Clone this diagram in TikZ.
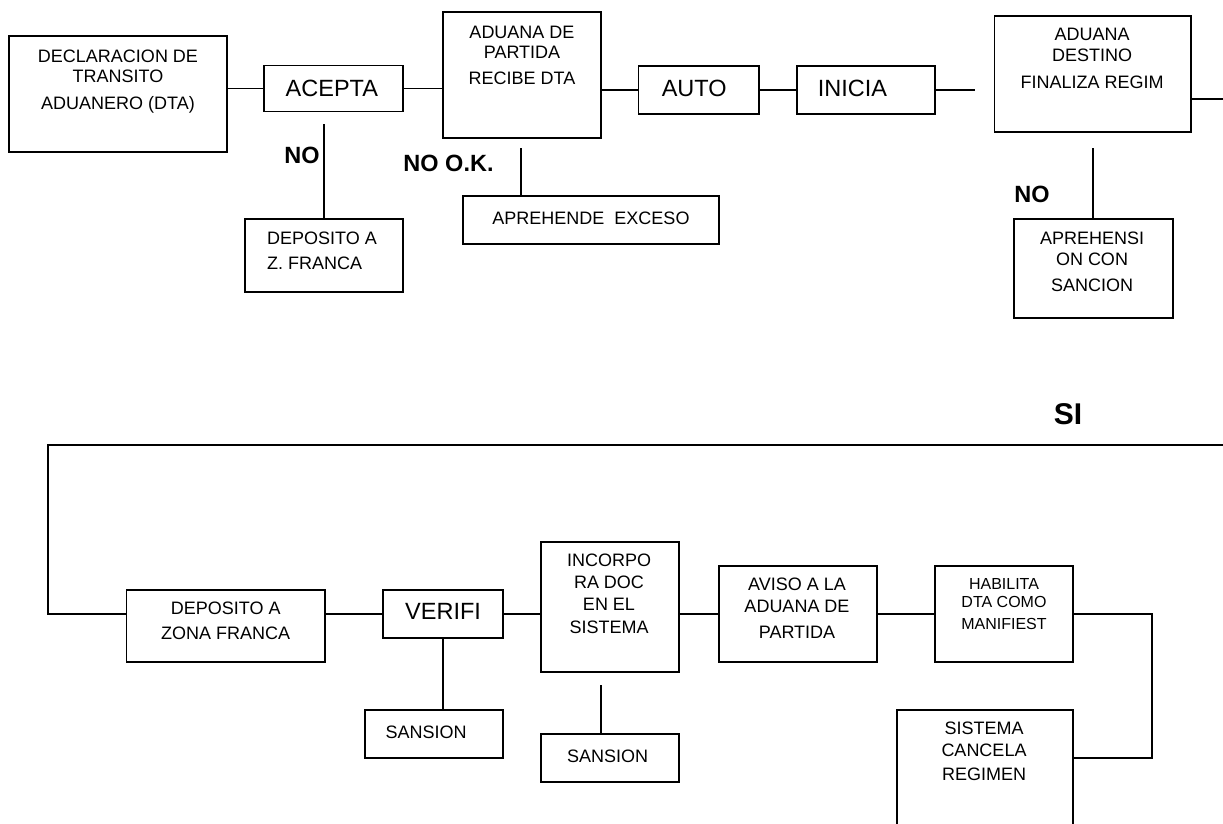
\documentclass[tikz,border=0pt]{standalone}
\usepackage{fontspec}
\setmainfont{Liberation Sans}
\begin{document}
\begin{tikzpicture}[x=1pt,y=-1pt,
  box/.style={draw, line width=1.6pt, inner sep=0pt, rectangle},
  ln/.style={line width=1.6pt},
  sm/.style={inner sep=0pt, font=\fontsize{18}{20}\selectfont, align=center, anchor=north},
  hb/.style={inner sep=0pt, font=\fontsize{16}{18}\selectfont, align=center, anchor=north},
  smw/.style={inner sep=0pt, font=\fontsize{18}{20}\selectfont, align=left, anchor=north west},
  big/.style={inner sep=0pt, font=\fontsize{23.5}{26}\selectfont, anchor=west},
  lbl/.style={inner sep=0pt, font=\bfseries\fontsize{23.5}{26}\selectfont},
]
\useasboundingbox (0,0) rectangle (1223,823);

% ---------- top row boxes ----------
\node[box, minimum width=218pt, minimum height=116pt] (decl) at (118,94) {};
\node[sm] (decltxt) at (118,49.6) {DECLARACION DE\\TRANSITO\\[7pt]ADUANERO (DTA)};

\node[box, minimum width=139pt, minimum height=46pt] (acepta) at (333.5,88.5) {};
\node[big] (aceptatxt) at (285.5,88.5) {ACEPTA};

\node[box, minimum width=158pt, minimum height=126pt] (adp) at (522,75) {};
\node[sm] (adptxt) at (522,25.6) {ADUANA DE\\PARTIDA\\[6pt]RECIBE DTA};

\node[box, minimum width=120.5pt, minimum height=48pt] (auto) at (698.75,90) {};
\node[big] (autotxt) at (661.6,88) {AUTO};

\node[box, minimum width=138pt, minimum height=48pt] (inicia) at (866,90) {};
\node[big] (iniciatxt) at (817.7,88) {INICIA};

\node[box, minimum width=196.5pt, minimum height=116pt] (add) at (1092.75,74) {};
\node[sm] (addtxt) at (1092,27.6) {ADUANA\\[1pt]DESTINO\\[7pt]FINALIZA REGIM};

% ---------- top row branches ----------
\node[box, minimum width=158pt, minimum height=73pt] (dz1) at (324,255.5) {};
\node[smw] (dz1txt) at (267,231.6) {DEPOSITO A\\[5pt]Z. FRANCA};

\node[box, minimum width=256pt, minimum height=48pt] (apre) at (591,220) {};
\node[sm] (apretxt) at (591,211.6) {APREHENDE\ \ EXCESO};

\node[box, minimum width=159pt, minimum height=99pt] (apreh) at (1093.5,268.5) {};
\node[sm] (aprehtxt) at (1092,231.6) {APREHENSI\\[1pt]ON CON\\[6pt]SANCION};

\node[lbl] (no1) at (302,155) {NO};
\node[lbl] (nook) at (448.5,163) {NO O.K.};
\node[lbl] (no2) at (1032,194) {NO};
\node[lbl, font=\bfseries\fontsize{30}{32}\selectfont] (si) at (1068,414) {SI};

% ---------- bottom row boxes ----------
\node[box, minimum width=198.5pt, minimum height=72pt] (dz2) at (225.75,626) {};
\node[sm] (dz2txt) at (225.7,601.3) {DEPOSITO A\\[5.3pt]ZONA FRANCA};

\node[box, minimum width=120pt, minimum height=48pt] (ver) at (443,614) {};
\node[big] (vertxt) at (405,611.7) {VERIFI};

\node[box, minimum width=138pt, minimum height=130pt] (inc) at (610,607) {};
\node[sm] (inctxt) at (609,553.6) {INCORPO\\[2pt]RA DOC\\[2pt]EN EL\\[3pt]SISTEMA};

\node[box, minimum width=158pt, minimum height=96pt] (av) at (798,614) {};
\node[sm] (avtxt) at (797,577.6) {AVISO A LA\\[2pt]ADUANA DE\\[5.7pt]PARTIDA};

\node[box, minimum width=138pt, minimum height=96pt] (hab) at (1004,614) {};
\node[hb] (habtxt) at (1004,578.6) {HABILITA\\DTA COMO\\[4pt]MANIFIEST};

\node[box, minimum width=176pt, minimum height=140pt] (sis) at (985,780) {};
\node[sm] (sistxt) at (984,721.9) {SISTEMA\\[1.7pt]CANCELA\\[4pt]REGIMEN};

\node[box, minimum width=138pt, minimum height=48pt] (s1) at (434,734) {};
\node[smw] (s1txt) at (385.5,725.6) {SANSION};

\node[box, minimum width=138pt, minimum height=48pt] (s2) at (610,758) {};
\node[smw] (s2txt) at (567,749.6) {SANSION};

% ---------- connectors ----------
\draw[ln] (acepta.west -| decl.east) -- (acepta.west);
\draw[ln] (acepta.east) -- (acepta.east -| adp.west);
\draw[ln] (auto.west -| adp.east) -- (auto.west);
\draw[ln] (auto.east) -- (inicia.west);
\coordinate (iniEnd) at (975,90);
\draw[ln] (inicia.east) -- (iniEnd);
\coordinate (addR) at (1223,99);
\draw[ln] (add.east |- addR) -- (addR);
\coordinate (noTop) at (324,124);
\draw[ln] (noTop) -- (dz1.north);
\coordinate (adpV) at (521,148);
\draw[ln] (adpV) -- (adpV |- apre.north);
\coordinate (addV) at (1093,148);
\draw[ln] (addV) -- (addV |- apreh.north);
\coordinate (siR) at (1223,445);
\coordinate (siL) at (48,445);
\draw[ln] (siR) -- (siL) |- (dz2.west |- ver.west);
\draw[ln] (ver.west -| dz2.east) -- (ver.west);
\draw[ln] (ver.east) -- (ver.east -| inc.west);
\draw[ln] (av.west -| inc.east) -- (av.west);
\draw[ln] (av.east) -- (hab.west);
\coordinate (rc) at (1152,758);
\draw[ln] (hab.east) -| (rc) -- (rc -| sis.east);
\draw[ln] (ver.south) -- (ver.south |- s1.north);
\coordinate (incV) at (601,685);
\draw[ln] (incV) -- (incV |- s2.north);
\end{tikzpicture}
\end{document}
